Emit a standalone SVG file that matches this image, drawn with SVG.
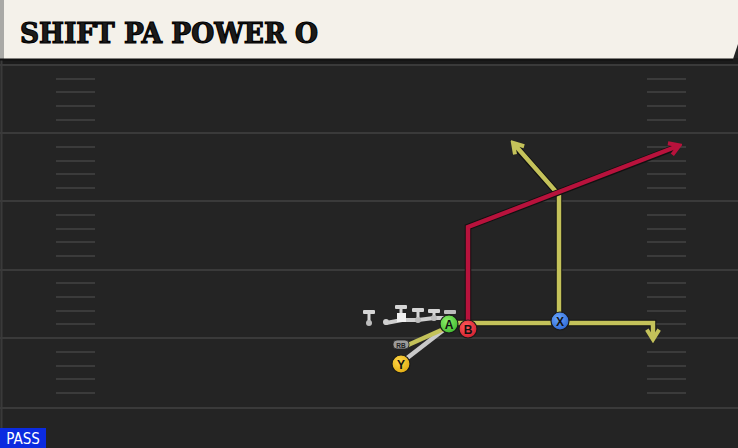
<svg xmlns="http://www.w3.org/2000/svg" width="738" height="448" viewBox="0 0 738 448">
<defs>
<style>
.major{stroke:#3a3a3a;stroke-width:2}
.hash{stroke:#3b3b3b;stroke-width:2}
.route{fill:none;stroke-width:4.5;stroke-linejoin:miter;stroke-linecap:butt}
.outline{fill:none;stroke:#111;stroke-width:6.5;stroke-linejoin:miter}
.yel{stroke:#c4c25a}
.red{stroke:#b8123c}
.gray{stroke:#c9c9c9}
.plabel{font-family:"Liberation Sans",Arial,sans-serif;font-size:12px;font-weight:bold;fill:#111;text-anchor:middle}
.lineman{fill:#d5d5d5}
</style>
<marker id="ay" viewBox="0 0 10 10" refX="7" refY="5" markerWidth="3.4" markerHeight="3.4" orient="auto" markerUnits="strokeWidth">
<path d="M1.5,1 L8,5 L1.5,9" fill="none" stroke="#c4c25a" stroke-width="2.6"/>
</marker>
<marker id="ar" viewBox="0 0 10 10" refX="7" refY="5" markerWidth="3.4" markerHeight="3.4" orient="auto" markerUnits="strokeWidth">
<path d="M1.5,1 L8,5 L1.5,9" fill="none" stroke="#b8123c" stroke-width="2.6"/>
</marker>
<radialGradient id="gA" cx="0.4" cy="0.35" r="0.7"><stop offset="0" stop-color="#8df06a"/><stop offset="1" stop-color="#3fb82e"/></radialGradient>
<radialGradient id="gB" cx="0.4" cy="0.35" r="0.7"><stop offset="0" stop-color="#ff5a5a"/><stop offset="1" stop-color="#d01e2e"/></radialGradient>
<radialGradient id="gX" cx="0.4" cy="0.35" r="0.7"><stop offset="0" stop-color="#6aa6ff"/><stop offset="1" stop-color="#2c66d0"/></radialGradient>
<radialGradient id="gY" cx="0.4" cy="0.35" r="0.7"><stop offset="0" stop-color="#ffd84a"/><stop offset="1" stop-color="#e0aa10"/></radialGradient>
</defs>

<g id="field">
<rect x="0" y="0" width="738" height="448" fill="#242424"/>
<rect x="0" y="58" width="738" height="7" fill="#1b1b1b"/>
<line x1="1.5" y1="60" x2="1.5" y2="448" stroke="#3a3a3a" stroke-width="2"/>
<line class="major" x1="0" y1="65" x2="738" y2="65"/>
<line class="major" x1="0" y1="133" x2="738" y2="133"/>
<line class="major" x1="0" y1="201" x2="738" y2="201"/>
<line class="major" x1="0" y1="270" x2="738" y2="270"/>
<line class="major" x1="0" y1="338" x2="738" y2="338"/>
<line class="major" x1="0" y1="408" x2="738" y2="408"/>
<g class="hash">
<line x1="56" y1="79" x2="95" y2="79"/><line x1="56" y1="92" x2="95" y2="92"/><line x1="56" y1="106" x2="95" y2="106"/><line x1="56" y1="120" x2="95" y2="120"/>
<line x1="56" y1="147" x2="95" y2="147"/><line x1="56" y1="161" x2="95" y2="161"/><line x1="56" y1="174" x2="95" y2="174"/><line x1="56" y1="188" x2="95" y2="188"/>
<line x1="56" y1="215" x2="95" y2="215"/><line x1="56" y1="229" x2="95" y2="229"/><line x1="56" y1="242" x2="95" y2="242"/><line x1="56" y1="256" x2="95" y2="256"/>
<line x1="56" y1="283" x2="95" y2="283"/><line x1="56" y1="297" x2="95" y2="297"/><line x1="56" y1="311" x2="95" y2="311"/><line x1="56" y1="324" x2="95" y2="324"/>
<line x1="56" y1="352" x2="95" y2="352"/><line x1="56" y1="366" x2="95" y2="366"/><line x1="56" y1="379" x2="95" y2="379"/><line x1="56" y1="393" x2="95" y2="393"/>
<line x1="647" y1="79" x2="686" y2="79"/><line x1="647" y1="92" x2="686" y2="92"/><line x1="647" y1="106" x2="686" y2="106"/><line x1="647" y1="120" x2="686" y2="120"/>
<line x1="647" y1="147" x2="686" y2="147"/><line x1="647" y1="161" x2="686" y2="161"/><line x1="647" y1="174" x2="686" y2="174"/><line x1="647" y1="188" x2="686" y2="188"/>
<line x1="647" y1="215" x2="686" y2="215"/><line x1="647" y1="229" x2="686" y2="229"/><line x1="647" y1="242" x2="686" y2="242"/><line x1="647" y1="256" x2="686" y2="256"/>
<line x1="647" y1="283" x2="686" y2="283"/><line x1="647" y1="297" x2="686" y2="297"/><line x1="647" y1="311" x2="686" y2="311"/><line x1="647" y1="324" x2="686" y2="324"/>
<line x1="647" y1="352" x2="686" y2="352"/><line x1="647" y1="366" x2="686" y2="366"/><line x1="647" y1="379" x2="686" y2="379"/><line x1="647" y1="393" x2="686" y2="393"/>
</g>
</g>

<g id="header">
<path d="M0,0 H738 V44 L733,59 H0 Z" fill="#f4f1ea"/>
<rect x="0" y="0" width="4" height="59" fill="#a9a9a6"/>
<line x1="0" y1="59.5" x2="733" y2="59.5" stroke="#111" stroke-width="2"/>
<text x="20" y="43" font-family="'DejaVu Serif Condensed','DejaVu Serif',serif" font-weight="bold" font-size="28" fill="#1b1b1b" stroke="#000" stroke-width="1.1" textLength="298" lengthAdjust="spacingAndGlyphs">SHIFT PA POWER O</text>
</g>

<g id="connectors">
<line class="route gray" x1="402" y1="362" x2="446" y2="328" stroke-linecap="round"/>
<line class="route yel" x1="408" y1="345" x2="446" y2="328"/>
<polyline points="386,323 402,320 418,320 434,318 446,318" fill="none" stroke="#cfcfcf" stroke-width="4" stroke-linecap="round"/>
<polyline class="outline" points="450,323 653,323 653,334"/>
<polyline class="route yel" points="450,323 653,323 653,338" marker-end="url(#ay)"/>
<polyline class="outline" points="559,321 559,195 517,148"/>
<polyline class="route yel" points="559,321 559,195 514,144" marker-end="url(#ay)"/>
<polyline class="outline" points="468,329 468,227 674,148"/>
<polyline class="route red" points="468,329 468,227 678,146" marker-end="url(#ar)"/>
</g>

<g id="line-T1">
<rect x="363" y="310" width="12" height="4" rx="1" class="lineman"/>
<rect x="367.5" y="312" width="3" height="10" class="lineman"/>
<circle cx="369" cy="323" r="3" fill="#bdbdbd"/>
</g>
<g id="line-C">
<circle cx="386" cy="322" r="3" fill="#cfcfcf"/>
<rect x="395" y="305" width="12" height="4" rx="1" class="lineman"/>
<rect x="399.5" y="307" width="3" height="8" class="lineman"/>
<rect x="397" y="313" width="9" height="9" fill="#f0f0f0"/>
</g>
<g id="line-G">
<rect x="412" y="308" width="12" height="4" rx="1" class="lineman"/>
<rect x="416.5" y="310" width="3" height="9" class="lineman"/>
<circle cx="418" cy="320" r="3" fill="#bdbdbd"/>
</g>
<g id="line-T2">
<rect x="428" y="309" width="12" height="4" rx="1" class="lineman"/>
<rect x="432.5" y="311" width="3" height="7" class="lineman"/>
<circle cx="434" cy="318" r="3" fill="#bdbdbd"/>
</g>
<g id="line-E">
<rect x="444" y="310" width="12" height="4" rx="1" fill="#bdbdbd"/>
</g>

<g id="RB">
<rect x="393" y="340" width="16" height="9" rx="4" fill="#9a9a9a" stroke="#222" stroke-width="0.8"/>
<text x="401" y="347.5" font-family="'Liberation Sans',Arial,sans-serif" font-size="6.5" font-weight="bold" fill="#222" text-anchor="middle">RB</text>
</g>
<g id="Y">
<circle cx="401" cy="364" r="9" fill="url(#gY)" stroke="#1a1a1a" stroke-width="1.2"/>
<text x="401" y="368.5" class="plabel">Y</text>
</g>
<g id="A">
<circle cx="449" cy="324" r="9" fill="url(#gA)" stroke="#1a1a1a" stroke-width="1.2"/>
<text x="449" y="328.5" class="plabel">A</text>
</g>
<g id="B">
<circle cx="468" cy="329" r="9" fill="url(#gB)" stroke="#1a1a1a" stroke-width="1.2"/>
<text x="468" y="333.5" class="plabel">B</text>
</g>
<g id="X">
<circle cx="560" cy="321" r="9" fill="url(#gX)" stroke="#1a1a1a" stroke-width="1.2"/>
<text x="560" y="325.5" class="plabel">X</text>
</g>

<g id="pass-tag">
<rect x="0" y="428" width="46" height="20" fill="#0b2be0"/>
<text x="23" y="444" font-family="'DejaVu Sans Condensed','DejaVu Sans',sans-serif" font-size="15" fill="#fff" text-anchor="middle">PASS</text>
</g>
</svg>
